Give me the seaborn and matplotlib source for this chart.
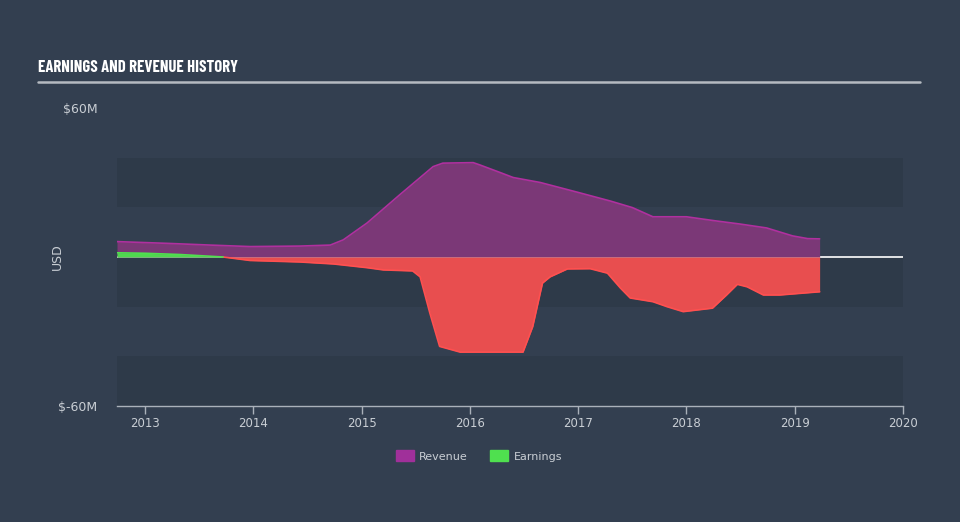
import matplotlib
matplotlib.use("Agg")
import matplotlib.pyplot as plt
from matplotlib.patches import Patch
import numpy as np
import pandas as pd
import seaborn as sns

rev_year = [2012.74, 2013.2, 2013.6, 2013.97, 2014.43, 2014.71, 2014.83, 2015.05, 2015.35, 2015.66,
            2015.75, 2016.03, 2016.09, 2016.28, 2016.4, 2016.65, 2017.0, 2017.3, 2017.5, 2017.69,
            2018.0, 2018.26, 2018.49, 2018.74, 2018.98, 2019.12, 2019.23]
rev_val = [6.2, 5.5, 4.8, 4.2, 4.4, 4.8, 6.9, 13.7, 25, 36.4,
           37.8, 38, 37.1, 34, 32, 30, 26, 22.5, 19.9, 16.2,
           16.2, 14.6, 13.3, 11.7, 8.5, 7.4, 7.3]

earn_year = [2012.74, 2013.0, 2013.32, 2013.72, 2013.97, 2014.43, 2014.74, 2015.05, 2015.2, 2015.47,
             2015.54, 2015.63, 2015.72, 2015.91, 2016.49, 2016.58, 2016.67, 2016.74, 2016.9, 2017.11,
             2017.27, 2017.39, 2017.48, 2017.69, 2017.82, 2017.97, 2018.24, 2018.37, 2018.47, 2018.56,
             2018.71, 2018.86, 2019.23]
earn_val = [1.7, 1.5, 1.0, 0.0, -1.4, -2.0, -2.8, -4.3, -5.2, -5.6,
            -8, -22.6, -36, -38.3, -38.3, -28, -10.5, -8, -4.8, -4.7,
            -6.5, -12.5, -16.5, -18, -20, -22, -20.6, -15.3, -11, -12,
            -15.3, -15.3, -14]

x_ticks = [2013, 2014, 2015, 2016, 2017, 2018, 2019, 2020]
y_ticks = [60, -60]
y_tick_labels = ["$60M", "$-60M"]

BG = "#333f50"
BAND = "#2e3a49"
TXT = "#c9ced4"

sns.set_theme(style="dark")
plt.rcParams["font.family"] = ["DejaVu Sans"]

fig = plt.figure(figsize=(9.6, 5.22), dpi=100, facecolor=BG)
ax = fig.add_axes([117/960, 1-406/522, (903-117)/960, (406-108)/522])
ax.set_facecolor(BG)

for lo, hi in [(20, 40), (-20, 0), (-60, -40)]:
    ax.axhspan(lo, hi, color=BAND, lw=0, zorder=0)

ax.axhline(0, color="white", lw=1.2, zorder=1)

rev = pd.DataFrame({"year": rev_year, "value": rev_val})
earn = pd.DataFrame({"year": earn_year, "value": earn_val})

ev = np.array(earn_val)
ey = np.array(earn_year)
ax.fill_between(rev["year"], 0, rev["value"], color="#7b3877", lw=0, zorder=2)
ax.fill_between(ey, 0, ev, where=ev >= 0, interpolate=True, color="#4fd84f", lw=0, zorder=3)
ax.fill_between(ey, 0, ev, where=ev <= 0, interpolate=True, color="#e84e4f", lw=0, zorder=3)

sns.lineplot(data=rev, x="year", y="value", ax=ax, color="#b0309f", lw=1.2, zorder=4)
sns.lineplot(data=earn[earn.value <= 0], x="year", y="value", ax=ax, color="#ff5050", lw=1.2, zorder=4)
sns.lineplot(data=earn[earn.value >= 0], x="year", y="value", ax=ax, color="#4fe04f", lw=1.2, zorder=4)

ax.set_xlim(2012.74, 2020.0)
ax.set_ylim(-60, 60)
ax.set_xticks(x_ticks)
ax.set_xticklabels([str(t) for t in x_ticks])
ax.set_yticks(y_ticks)
ax.set_yticklabels(y_tick_labels)
ax.set_xlabel("")
ax.set_ylabel("USD", color=TXT, fontsize=9)
ax.yaxis.set_label_coords((64-117)/786, 0.5)
ax.grid(False)

for s in ["top", "right", "left"]:
    ax.spines[s].set_visible(False)
ax.spines["bottom"].set_color("#aab1ba")
ax.spines["bottom"].set_linewidth(1)
ax.tick_params(axis="x", colors=TXT, labelsize=8.5, direction="out", length=6, width=1, pad=2, color="#aab1ba", bottom=True)
ax.tick_params(axis="y", colors=TXT, labelsize=9, length=0, pad=14)

fig.text(38/960, 1-68/522, "EARNINGS AND REVENUE HISTORY", color="white", fontsize=12,
         fontweight="bold", family=["Barlow Condensed", "DejaVu Sans"], va="center", ha="left")
fig.add_artist(plt.Line2D([38/960, 920/960], [1-82/522, 1-82/522], color="#b5bac1", lw=1.8))

handles = [Patch(color="#a0309a", label="Revenue"), Patch(color="#4fe04f", label="Earnings")]
fig.legend(handles=handles, loc="center", bbox_to_anchor=(479/960, 1-456/522), ncol=2, frameon=False,
           fontsize=8, labelcolor=TXT, handlelength=1.6, handleheight=1.1, columnspacing=2.0, handletextpad=0.5)

fig.savefig("out.png", dpi=100, facecolor=BG)
